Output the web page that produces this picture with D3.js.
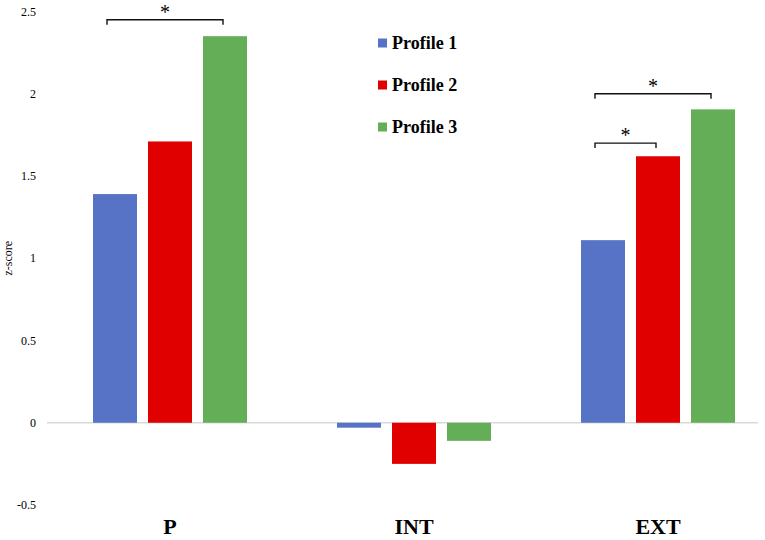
<!DOCTYPE html>
<html>
<head>
<meta charset="utf-8">
<script src="https://cdn.jsdelivr.net/npm/d3@7"></script>
<style>
  body { margin: 0; background: #fff; }
  text { font-family: "Liberation Serif", "Times New Roman", serif; }
</style>
</head>
<body>
<div class="chart"></div>
<script>
// data
var categories = ["P", "INT", "EXT"];
var profiles = ["Profile 1", "Profile 2", "Profile 3"];
var profile1 = [1.39, -0.03, 1.11];
var profile2 = [1.71, -0.25, 1.62];
var profile3 = [2.35, -0.11, 1.905];
var yTicks = [-0.5, 0, 0.5, 1, 1.5, 2, 2.5];
// significance brackets: category, from profile, to profile, bracket level
var sigCat = ["P", "EXT", "EXT"];
var sigFrom = [0, 0, 0];
var sigTo = [2, 2, 1];
var sigLevel = [2.45, 2.0, 1.70];

var colors = ["#5773C5", "#E00000", "#64AE58"];

function initChart() {
    var width = 765, height = 540;
    var svg = d3.select(".chart").append("svg").attr("width", width).attr("height", height);

    var series = [profile1, profile2, profile3];

    var x = d3.scaleBand()
        .domain(categories)
        .range([48, 780]);

    var xIn = d3.scaleBand()
        .domain([0, 1, 2])
        .range([x.bandwidth() / 2 - 77, x.bandwidth() / 2 + 77])
        .paddingInner(0.2);

    var y = d3.scaleLinear()
        .domain([-0.5, 2.5])
        .range([505, 11.5]);

    // y tick labels (no axis line)
    svg.append("g").selectAll("text").data(yTicks).enter().append("text")
        .attr("x", 36)
        .attr("y", function (d) { return y(d); })
        .attr("dy", "0.35em")
        .attr("text-anchor", "end")
        .attr("font-size", 12)
        .attr("fill", "#000")
        .text(function (d) { return d; });

    // zero line
    svg.append("line")
        .attr("x1", 47).attr("x2", 758)
        .attr("y1", y(0)).attr("y2", y(0))
        .attr("stroke", "#D9D9D9").attr("stroke-width", 1.5);

    // bars
    var groups = svg.append("g").selectAll("g").data(categories).enter().append("g")
        .attr("transform", function (d) { return "translate(" + x(d) + ",0)"; });

    groups.selectAll("rect").data(function (d, i) {
        return series.map(function (s, j) { return {k: j, v: s[i]}; });
    }).enter().append("rect")
        .attr("x", function (d) { return xIn(d.k); })
        .attr("width", xIn.bandwidth())
        .attr("y", function (d) { return y(Math.max(0, d.v)); })
        .attr("height", function (d) { return Math.abs(y(d.v) - y(0)); })
        .attr("fill", function (d) { return colors[d.k]; });

    // category labels
    svg.append("g").selectAll("text").data(categories).enter().append("text")
        .attr("x", function (d) { return x(d) + x.bandwidth() / 2; })
        .attr("y", 534)
        .attr("text-anchor", "middle")
        .attr("font-size", 22)
        .attr("font-weight", "bold")
        .text(function (d) { return d; });

    // y axis title
    svg.append("text")
        .attr("transform", "translate(12," + y(1) + ") rotate(-90)")
        .attr("text-anchor", "middle")
        .attr("font-size", 12)
        .text("z-score");

    // significance brackets
    var sig = svg.append("g");
    sigCat.forEach(function (c, i) {
        var x1 = x(c) + xIn(sigFrom[i]) + xIn.bandwidth() / 2 - 8,
            x2 = x(c) + xIn(sigTo[i]) + xIn.bandwidth() / 2 - 2,
            yy = y(sigLevel[i]);
        sig.append("path")
            .attr("d", "M" + x1 + "," + (yy + 5) + " L" + x1 + "," + yy + " L" + x2 + "," + yy + " L" + x2 + "," + (yy + 5))
            .attr("fill", "none").attr("stroke", "#111").attr("stroke-width", 1.4);
        sig.append("text")
            .attr("x", (x1 + x2) / 2)
            .attr("y", yy - 1)
            .attr("text-anchor", "middle")
            .attr("font-size", 20)
            .text("*");
    });

    // legend
    var legend = svg.append("g").selectAll("g").data(profiles).enter().append("g")
        .attr("transform", function (d, i) { return "translate(378," + (43 + i * 42) + ")"; });
    legend.append("rect")
        .attr("x", 0).attr("y", -4.5)
        .attr("width", 9).attr("height", 9)
        .attr("fill", function (d, i) { return colors[i]; });
    legend.append("text")
        .attr("x", 14)
        .attr("dy", "0.35em")
        .attr("font-size", 18)
        .attr("font-weight", "bold")
        .text(function (d) { return d; });
}
initChart();
</script>
</body>
</html>
